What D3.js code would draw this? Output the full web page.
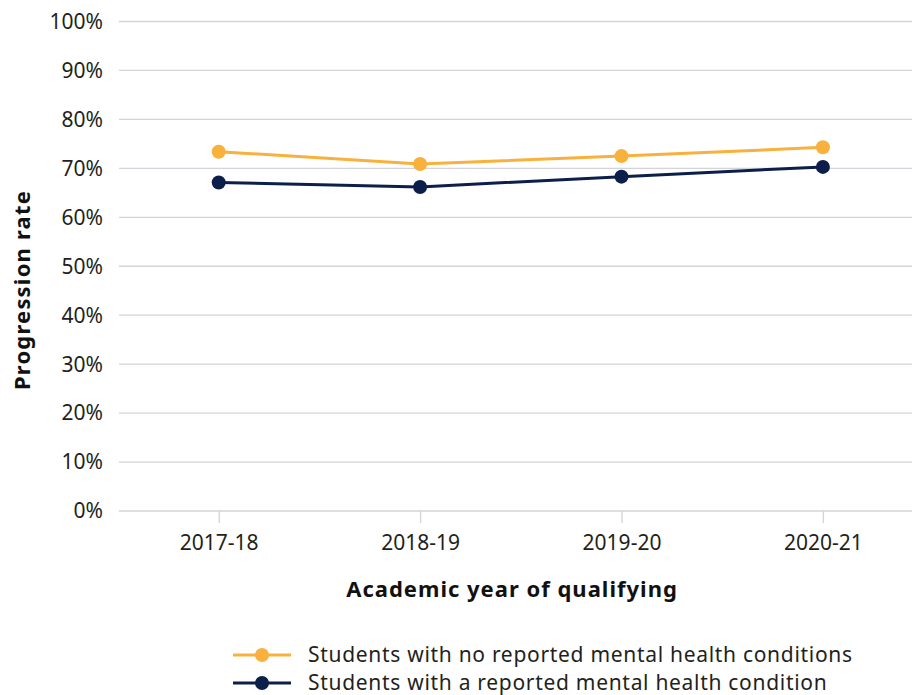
<!DOCTYPE html>
<html>
<head>
<meta charset="utf-8">
<script src="https://cdn.jsdelivr.net/npm/d3@7"></script>
<style>
  html, body { margin: 0; padding: 0; background: #ffffff; }
  svg { display: block; font-family: "Noto Sans", "Open Sans", sans-serif; }
</style>
</head>
<body>
<svg id="chart" width="912" height="695"></svg>
<script>
// Academic years and progression rates (%)
const years = ["2017-18", "2018-19", "2019-20", "2020-21"];
const noCondition = [73.4, 70.9, 72.5, 74.3];
const withCondition = [67.1, 66.2, 68.3, 70.3];
const yTicks = [0, 10, 20, 30, 40, 50, 60, 70, 80, 90, 100];

const seriesNames = [
  "Students with no reported mental health conditions",
  "Students with a reported mental health condition"
];
const seriesColors = ["#F8B13D", "#0C1F4B"];
const seriesValues = [noCondition, withCondition];

const svg = d3.select("#chart");
const W = 912, H = 695;
const plotLeft = 118, plotTop = 21.5, plotBottom = 511;

const x = d3.scaleBand().domain(years).range([plotLeft, plotLeft + 4 * 201.4]);
const y = d3.scaleLinear().domain([0, 100]).range([plotBottom, plotTop]);
const cx = d => x(d) + x.bandwidth() / 2;

// horizontal gridlines
svg.append("g")
  .selectAll("line")
  .data(yTicks)
  .join("line")
  .attr("x1", plotLeft + 1).attr("x2", W)
  .attr("y1", d => y(d)).attr("y2", d => y(d))
  .attr("stroke", "#D3D3DA").attr("stroke-width", 1.3);

// y tick labels
svg.append("g")
  .selectAll("text")
  .data(yTicks)
  .join("text")
  .attr("x", 103)
  .attr("y", d => y(d))
  .attr("dy", "0.35em")
  .attr("text-anchor", "end")
  .attr("font-size", 21)
  .attr("fill", "#231F20")
  .text(d => d + "%");

// x axis ticks and labels
const xAxis = d3.axisBottom(d3.scalePoint().domain(years).range([cx(years[0]), cx(years[3])]))
  .tickSize(12).tickPadding(8);
const gx = svg.append("g").attr("transform", `translate(0,${plotBottom})`).call(xAxis);
gx.select(".domain").remove();
gx.selectAll(".tick line").attr("stroke", "#D3D3DA").attr("stroke-width", 1.3);
gx.selectAll(".tick text")
  .attr("font-size", 21)
  .attr("font-family", "'Noto Sans', sans-serif")
  .attr("fill", "#231F20")
  .attr("y", 24);

// series lines and markers
const line = d3.line().x((d, i) => cx(years[i])).y(d => y(d));
seriesValues.forEach((vals, s) => {
  svg.append("path")
    .datum(vals)
    .attr("d", line)
    .attr("fill", "none")
    .attr("stroke", seriesColors[s])
    .attr("stroke-width", 3);
  svg.append("g")
    .selectAll("circle")
    .data(vals)
    .join("circle")
    .attr("cx", (d, i) => cx(years[i]))
    .attr("cy", d => y(d))
    .attr("r", 7)
    .attr("fill", seriesColors[s]);
});

// axis titles
svg.append("text")
  .attr("transform", "translate(30,290) rotate(-90)")
  .attr("text-anchor", "middle")
  .attr("font-size", 22)
  .attr("font-weight", "bold")
  .attr("letter-spacing", 1.2)
  .attr("fill", "#111111")
  .text("Progression rate");

svg.append("text")
  .attr("x", 512).attr("y", 597)
  .attr("text-anchor", "middle")
  .attr("font-size", 22)
  .attr("font-weight", "bold")
  .attr("letter-spacing", 1)
  .attr("fill", "#111111")
  .text("Academic year of qualifying");

// legend
const legend = svg.append("g");
seriesNames.forEach((name, i) => {
  const ly = 655 + i * 28;
  legend.append("line")
    .attr("x1", 233).attr("x2", 291)
    .attr("y1", ly).attr("y2", ly)
    .attr("stroke", seriesColors[i]).attr("stroke-width", 3);
  legend.append("circle")
    .attr("cx", 262).attr("cy", ly).attr("r", 7)
    .attr("fill", seriesColors[i]);
  legend.append("text")
    .attr("x", 308).attr("y", ly)
    .attr("dy", "0.33em")
    .attr("font-size", 21)
    .attr("letter-spacing", 0.7)
    .attr("fill", "#231F20")
    .text(name);
});
</script>
</body>
</html>
